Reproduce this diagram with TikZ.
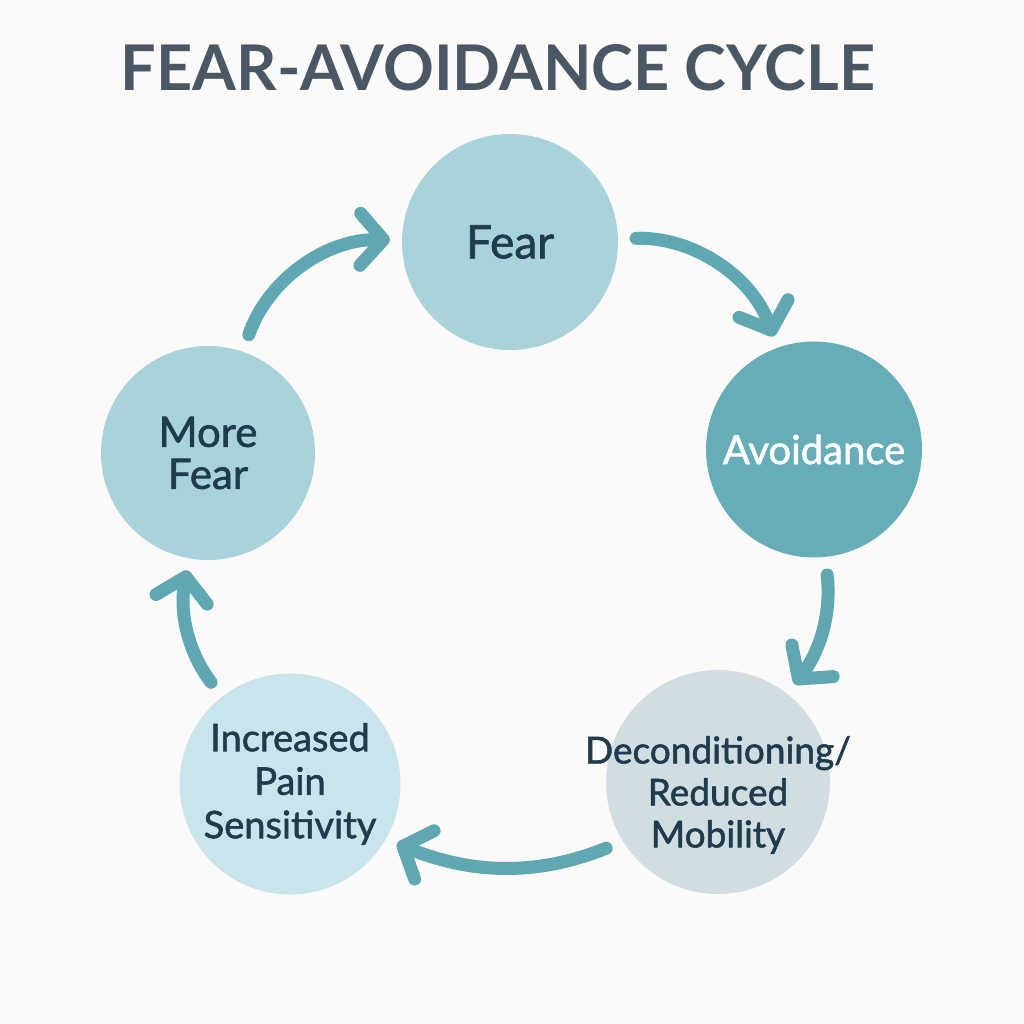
\documentclass[tikz,border=0pt]{standalone}
\usepackage{fontspec}
\setmainfont{Lato}
\newfontfamily\stagefont{Lato}[FakeBold=1.5]
\usepackage{tikz}
\usetikzlibrary{arrows.meta}

\definecolor{bgpaper}{HTML}{FBFAF8}
\definecolor{titlegray}{HTML}{4A5866}
\definecolor{inktext}{HTML}{1F3B4D}
\definecolor{arrowteal}{HTML}{5EA7B3}
\definecolor{tealpale}{HTML}{A9D3DA}
\definecolor{tealdark}{HTML}{67ADB8}
\definecolor{greyblue}{HTML}{D0DEE2}
\definecolor{tealmist}{HTML}{C9E4EA}

\begin{document}
\begin{tikzpicture}[x=1pt, y=1pt,
    stage/.style={circle, inner sep=0pt, text=inktext, align=center},
    cyc/.style={line width=13pt, draw=arrowteal, line cap=round,
        -{Straight Barb[length=23pt,width=52pt,round]},
        shorten <=18pt, shorten >=12pt}]
    \fill[bgpaper] (0,0) rectangle (1024,1024);
    \useasboundingbox (0,0) rectangle (1024,1024);

    \node[text=titlegray, font=\bfseries\fontsize{63}{70}\selectfont] (title) at (498,956.5) {FEAR-AVOIDANCE CYCLE};

    \node[stage, fill=tealpale, minimum size=216pt, font=\stagefont\fontsize{46}{50}\selectfont] (fear) at (510,782) {Fear};
    \node[stage, fill=tealdark, minimum size=216pt, text=white, font=\stagefont\fontsize{40}{44}\selectfont] (avoid) at (814,574.5) {Avoidance};
    % text wider than the circle, so it sits in a label
    \node[stage, fill=greyblue, minimum size=224pt,
        label={[text=inktext, align=center, yshift=-13pt, font=\stagefont\fontsize{37}{42}\selectfont]center:Deconditioning/\\Reduced\\Mobility}] (decond) at (718,242) {};
    \node[stage, fill=tealmist, minimum size=221pt, font=\stagefont\fontsize{38}{43.5}\selectfont] (pain) at (290,240) {Increased\\Pain\\Sensitivity};
    \node[stage, fill=tealpale, minimum size=214pt, font=\stagefont\fontsize{42}{42}\selectfont] (more) at (208,571) {More\\Fear};

    \draw[cyc] (fear) to[bend left=36] (avoid);
    \draw[cyc] (avoid) to[bend left=22] (decond);
    \draw[cyc] (decond.212) to[out=202, in=-22] (pain.-30);
    \draw[cyc] (pain) to[bend left=24] (more);
    \draw[cyc] (more) to[bend left=36] (fear);
\end{tikzpicture}
\end{document}
